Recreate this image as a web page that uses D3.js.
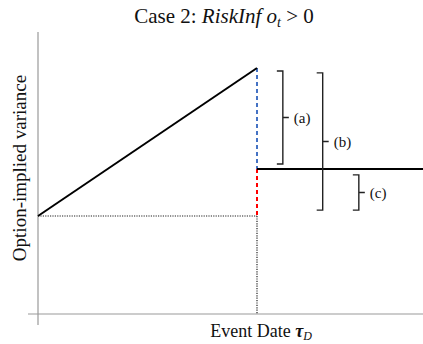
<!DOCTYPE html>
<html>
<head>
<meta charset="utf-8">
<script src="https://cdn.jsdelivr.net/npm/d3@7"></script>
<style>
  body { margin: 0; background: #fff; }
  text { font-family: "Liberation Serif", "DejaVu Serif", serif; fill: #111; }
</style>
</head>
<body>
<script>
// stylised variance path around the event date (time in units of tau_D)
var preTimes = [0, 1];
var preVariance = [1, 2.51];
var postTimes = [1, 1.76];
var postVariance = [1.48, 1.48];
var baseline = 1;
var eventTime = 1;

// brace annotations: label, top value, bottom value, time
var braceLabels = ["(a)", "(b)", "(c)"];
var braceFrom = [2.48, 2.46, 1.42];
var braceTo = [1.53, 1.06, 1.06];
var braceTime = [1.118, 1.3, 1.465];

var width = 423, height = 344;

var svg = d3.select("body").append("svg")
  .attr("width", width)
  .attr("height", height);

var x = d3.scaleLinear().domain([0, 1.758]).range([38, 423]);
var y = d3.scaleLinear().domain([0, 1]).range([314, 216]);

// axes
svg.append("line")
  .attr("x1", 28).attr("x2", width)
  .attr("y1", y(0)).attr("y2", y(0))
  .attr("stroke", "#999").attr("stroke-width", 1.2);
svg.append("line")
  .attr("x1", x(0)).attr("x2", x(0))
  .attr("y1", 32).attr("y2", 325)
  .attr("stroke", "#999").attr("stroke-width", 1.2);

// dotted guides
svg.append("line")
  .attr("x1", x(0)).attr("x2", x(eventTime))
  .attr("y1", y(baseline)).attr("y2", y(baseline))
  .attr("stroke", "#222").attr("stroke-width", 1.2).attr("stroke-dasharray", "1.2,1.2");
svg.append("line")
  .attr("x1", x(eventTime)).attr("x2", x(eventTime))
  .attr("y1", y(baseline)).attr("y2", y(0))
  .attr("stroke", "#222").attr("stroke-width", 1.2).attr("stroke-dasharray", "1.2,1.2");

// jump at the event date
svg.append("line")
  .attr("x1", x(eventTime)).attr("x2", x(eventTime))
  .attr("y1", y(preVariance[1])).attr("y2", y(postVariance[0]))
  .attr("stroke", "#4472c4").attr("stroke-width", 2).attr("stroke-dasharray", "4,3");
svg.append("line")
  .attr("x1", x(eventTime)).attr("x2", x(eventTime))
  .attr("y1", y(postVariance[0])).attr("y2", y(baseline))
  .attr("stroke", "#ff0000").attr("stroke-width", 2).attr("stroke-dasharray", "4,3");

var line = d3.line()
  .x(function(d){ return x(d[0]); })
  .y(function(d){ return y(d[1]); });

svg.append("path")
  .datum(d3.zip(preTimes, preVariance))
  .attr("d", line)
  .attr("fill", "none").attr("stroke", "#000").attr("stroke-width", 2);
svg.append("path")
  .datum(d3.zip(postTimes, postVariance))
  .attr("d", line)
  .attr("fill", "none").attr("stroke", "#000").attr("stroke-width", 2);

// braces
braceLabels.forEach(function(lab, i){
  var bx = x(braceTime[i]);
  var y0 = y(braceFrom[i]), y1 = y(braceTo[i]);
  var ym = (y0 + y1) / 2;
  svg.append("path")
    .attr("d", "M" + (bx - 6) + "," + y0 + "H" + bx + "V" + y1 + "H" + (bx - 6) +
               "M" + bx + "," + ym + "H" + (bx + 6))
    .attr("fill", "none").attr("stroke", "#222").attr("stroke-width", 1.4);
  svg.append("text")
    .attr("x", bx + 11).attr("y", ym)
    .attr("dy", "0.35em")
    .attr("font-size", 15)
    .text(lab);
});

// title
var title = svg.append("text")
  .attr("x", 224).attr("y", 23)
  .attr("text-anchor", "middle")
  .attr("font-size", 21);
title.append("tspan").text("Case 2: ");
title.append("tspan").attr("font-style", "italic").text("RiskInf o");
title.append("tspan").attr("font-style", "italic").attr("font-size", 14).attr("dy", 4).text("t");
title.append("tspan").attr("dy", -4).text(" > 0");

// axis labels
svg.append("text")
  .attr("transform", "translate(26,168) rotate(-90)")
  .attr("text-anchor", "middle")
  .attr("font-size", 19)
  .text("Option-implied variance");

var xl = svg.append("text")
  .attr("x", 261).attr("y", 337)
  .attr("text-anchor", "middle")
  .attr("font-size", 18);
xl.append("tspan").text("Event Date ");
xl.append("tspan").attr("font-style", "italic").attr("font-weight", "bold").text("τ");
xl.append("tspan").attr("font-style", "italic").attr("font-size", 12).attr("dy", 3).text("D");
</script>
</body>
</html>
